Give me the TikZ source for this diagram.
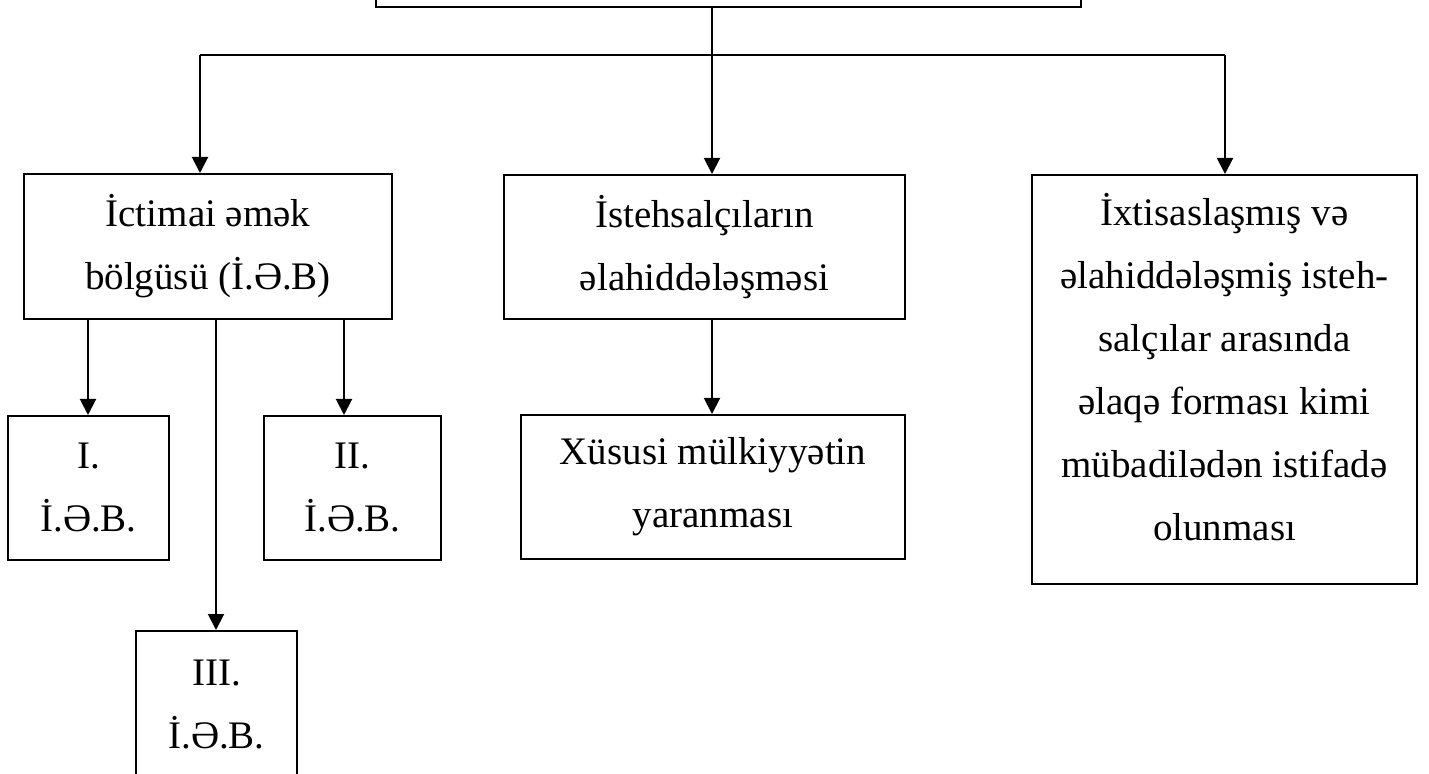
\documentclass[tikz,border=0pt]{standalone}
\usepackage{fontspec}
\setmainfont{Liberation Serif}
\usetikzlibrary{arrows.meta}

\begin{document}
\begin{tikzpicture}[x=0.5pt,y=-0.5pt,line width=1pt,
  blk/.style={draw,rectangle,inner sep=0pt,align=center,font=\fontsize{19.5}{31.5}\selectfont},
  arr/.style={-{Triangle[length=8pt,width=8pt]}}]
  \clip (0,0) rectangle (1429,774);
  \node[blk,minimum width=352.5pt,minimum height=50pt] (top) at (728.5,-43) {};
  \node[blk,minimum width=184pt,minimum height=72.5pt] (ictimai) at (208,246.5) {İctimai əmək\\bölgüsü (İ.Ə.B)};
  \node[blk,minimum width=200.5pt,minimum height=72pt] (istehsal) at (704.5,247) {İstehsalçıların\\əlahiddələşməsi};
  \node[blk,minimum width=192.5pt,minimum height=204.5pt,text depth=13pt] (ixtisas) at (1224.5,379.5) {İxtisaslaşmış və\\əlahiddələşmiş isteh-\\salçılar arasında\\əlaqə forması kimi\\mübadilədən istifadə\\olunması};
  \node[blk,minimum width=80.5pt,minimum height=72pt] (ib1) at (88.5,488) {I.\\İ.Ə.B.};
  \node[blk,minimum width=88.5pt,minimum height=72pt] (ib2) at (352.5,488) {II.\\İ.Ə.B.};
  \node[blk,minimum width=80.5pt,minimum height=74pt] (ib3) at (216.5,705) {III.\\İ.Ə.B.};
  \node[blk,minimum width=192pt,minimum height=72pt] (xususi) at (713,487) {Xüsusi mülkiyyətin\\yaranması};
  \coordinate (busL) at (200,55);
  \coordinate (busM) at (712,55);
  \coordinate (busR) at (1225,55);
  \coordinate (subI) at (88,0);
  \coordinate (subII) at (344,0);
  \coordinate (subIII) at (216,0);
  \draw (busL) -- (busR);
  \draw (top.south -| busM) -- (busM);
  \draw[arr] (busL) -- (busL |- ictimai.north);
  \draw[arr] (busM) -- (busM |- istehsal.north);
  \draw[arr] (busR) -- (busR |- ixtisas.north);
  \draw[arr] (ictimai.south -| subI) -- (ib1.north -| subI);
  \draw[arr] (ictimai.south -| subII) -- (ib2.north -| subII);
  \draw[arr] (ictimai.south -| subIII) -- (ib3.north -| subIII);
  \draw[arr] (istehsal.south -| busM) -- (xususi.north -| busM);
\end{tikzpicture}
\end{document}
